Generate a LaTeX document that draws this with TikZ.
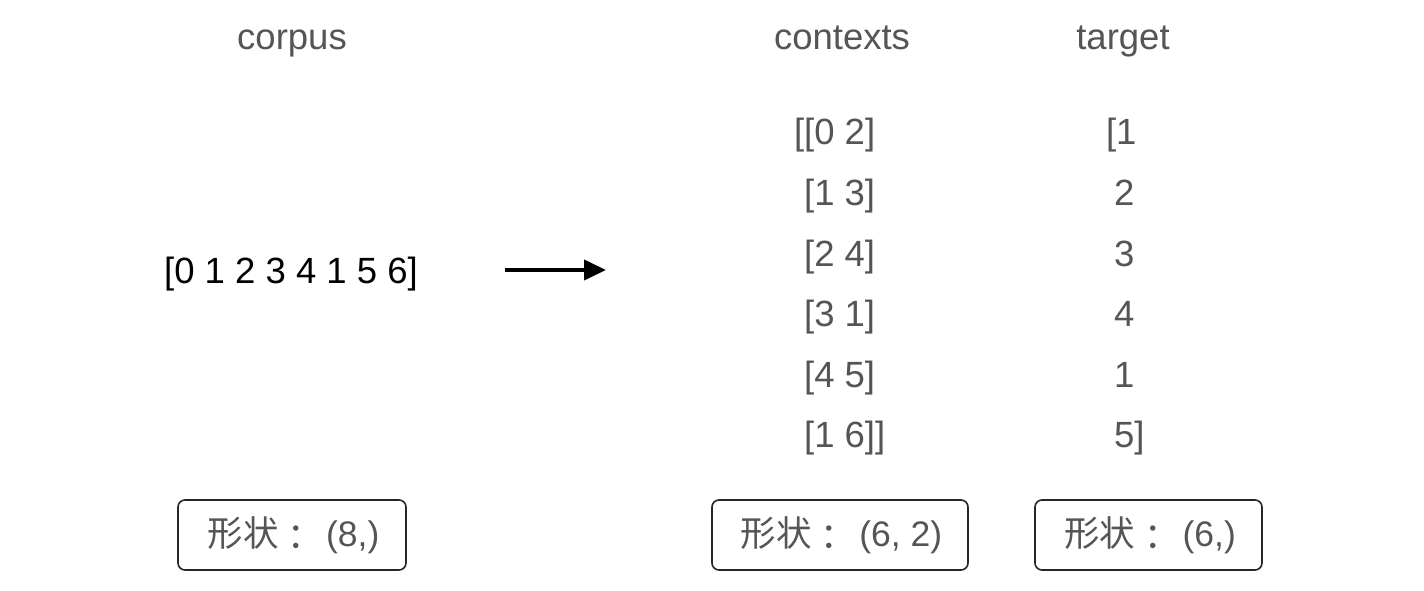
\documentclass[tikz,border=0pt]{standalone}
\usepackage{fontspec}
\setmainfont{Liberation Sans}
\newfontfamily\cjk{Noto Sans CJK TC}
\usetikzlibrary{arrows.meta}
\definecolor{txtgray}{HTML}{555555}
\newcommand{\shapelabel}[1]{\hspace*{3pt}{\cjk 形状\raisebox{-4pt}{：}}\hspace*{12pt}#1}
\begin{document}
\begin{tikzpicture}[x=1pt,y=-1pt,
  every node/.style={inner sep=0pt,outer sep=0pt},
  lbl/.style={font=\fontsize{36.5}{40}\selectfont, text=txtgray, anchor=base},
  arr/.style={font=\fontsize{36.5}{40}\selectfont, text=txtgray, anchor=base west},
  shapebox/.style={draw=black!85, line width=1.6pt, rounded corners=7pt, minimum height=70pt,
     font=\fontsize{35.5}{40}\selectfont, text=txtgray}]
\useasboundingbox (0,0) rectangle (1424,591);
% headers
\node[lbl] (hcorpus) at (292,50) {corpus};
\node[lbl] (hcontexts) at (842,50) {contexts};
\node[lbl] (htarget) at (1123,50) {target};
% corpus array
\node[font=\fontsize{36.5}{40}\selectfont, text=black, anchor=base] (corpus) at (291,283) {[0 1 2 3 4 1 5 6]};
% arrow
\coordinate (a1) at (505,270);
\coordinate (a2) at (606,270);
\draw[line width=4pt, -{Triangle[length=22pt,width=20pt]}] (a1) -- (a2);
% contexts
\node[arr] (c1) at (794,145) {[[0 2]};
\node[arr] (c2) at (794,205) {\phantom{[}[1 3]};
\node[arr] (c3) at (794,266) {\phantom{[}[2 4]};
\node[arr] (c4) at (794,326) {\phantom{[}[3 1]};
\node[arr] (c5) at (794,387) {\phantom{[}[4 5]};
\node[arr] (c6) at (794,447) {\phantom{[}[1 6]]};
% target
\node[arr] (t1) at (1106,145) {[1};
\node[arr] (t2) at (1104,205) {\phantom{[}2};
\node[arr] (t3) at (1104,266) {\phantom{[}3};
\node[arr] (t4) at (1104,326) {\phantom{[}4};
\node[arr] (t5) at (1104,387) {\phantom{[}1};
\node[arr] (t6) at (1104,447) {\phantom{[}5]};
% shape boxes
\node[shapebox, minimum width=228pt] (b1) at (292,535) {\shapelabel{(8,)}};
\node[shapebox, minimum width=256pt] (b2) at (840,535) {\shapelabel{(6, 2)}};
\node[shapebox, minimum width=227pt] (b3) at (1148.5,535) {\shapelabel{(6,)}};
\end{tikzpicture}
\end{document}
